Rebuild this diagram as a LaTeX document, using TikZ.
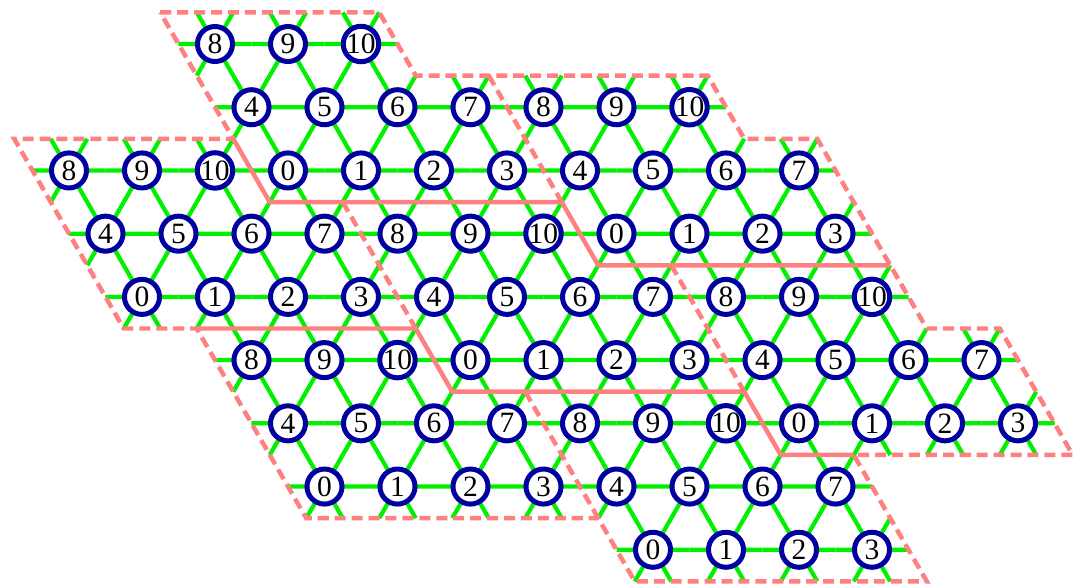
\documentclass[tikz,border=0pt]{standalone}
\usepackage{fontspec}
\setmainfont{Liberation Serif}
\usetikzlibrary{backgrounds}
\definecolor{bondgreen}{RGB}{0,240,0}
\definecolor{ringblue}{RGB}{0,0,160}
\definecolor{cellpink}{RGB}{255,128,128}
\tikzset{
  site/.style={circle, draw=ringblue, line width=1.95pt, fill=white, inner sep=0pt, minimum size=4.8mm, font=\fontsize{11.5}{13}\selectfont},
  bond/.style={draw=bondgreen, line width=1.65pt},
  celledge/.style={draw=cellpink, line width=1.75pt, dash pattern=on 4.3pt off 2.3pt},
  cellseam/.style={draw=cellpink, line width=1.75pt}
}

\begin{document}
\begin{tikzpicture}[x={(1cm,0cm)}, y={(0.5cm,-0.8660cm)}]
  \useasboundingbox (-2.945cm,0.603cm) rectangle (11.808cm,-7.438cm);
  \foreach \c/\k/\j in {A/0/2,B/4/3,C/-3/4,D/1/5,E/5/6,F/-2/7,G/2/8}{
    \foreach \n in {0,...,10}{
      \pgfmathtruncatemacro\srow{int(\n/4)}
      \pgfmathtruncatemacro\scol{mod(\n,4)}
      \node[site] (\c\n) at ({\k+\scol},{\j-\srow}) {\n};
      \begin{scope}[on background layer]
        \draw[bond] (\c\n.center) -- +(0.5,0) (\c\n.center) -- +(-0.5,0)
          (\c\n.center) -- +(0,0.5) (\c\n.center) -- +(0,-0.5)
          (\c\n.center) -- +(0.5,-0.5) (\c\n.center) -- +(-0.5,0.5);
      \end{scope}
    }
  }
  \draw[celledge] (-0.5,-0.5) -- (2.5,-0.5) -- (2.5,0.5) -- (6.5,0.5) -- (6.5,1.5)
    -- (7.5,1.5) -- (7.5,4.5) -- (8.5,4.5) -- (8.5,6.5) -- (5.5,6.5) -- (5.5,8.5)
    -- (1.5,8.5) -- (1.5,7.5) -- (-2.5,7.5) -- (-2.5,4.5) -- (-3.5,4.5)
    -- (-3.5,1.5) -- (-0.5,1.5) -- cycle;
  \draw[celledge] (3.5,0.5) -- (3.5,2.5) (0.5,2.5) -- (0.5,4.5)
    (4.5,3.5) -- (4.5,5.5) (1.5,5.5) -- (1.5,7.5);
  \draw[cellseam] (-0.5,1.5) -- (-0.5,2.5) -- (3.5,2.5) -- (3.5,3.5) -- (7.5,3.5);
  \draw[cellseam] (-2.5,4.5) -- (0.5,4.5) -- (0.5,5.5) -- (4.5,5.5) -- (4.5,6.5) -- (5.5,6.5);
\end{tikzpicture}
\end{document}
